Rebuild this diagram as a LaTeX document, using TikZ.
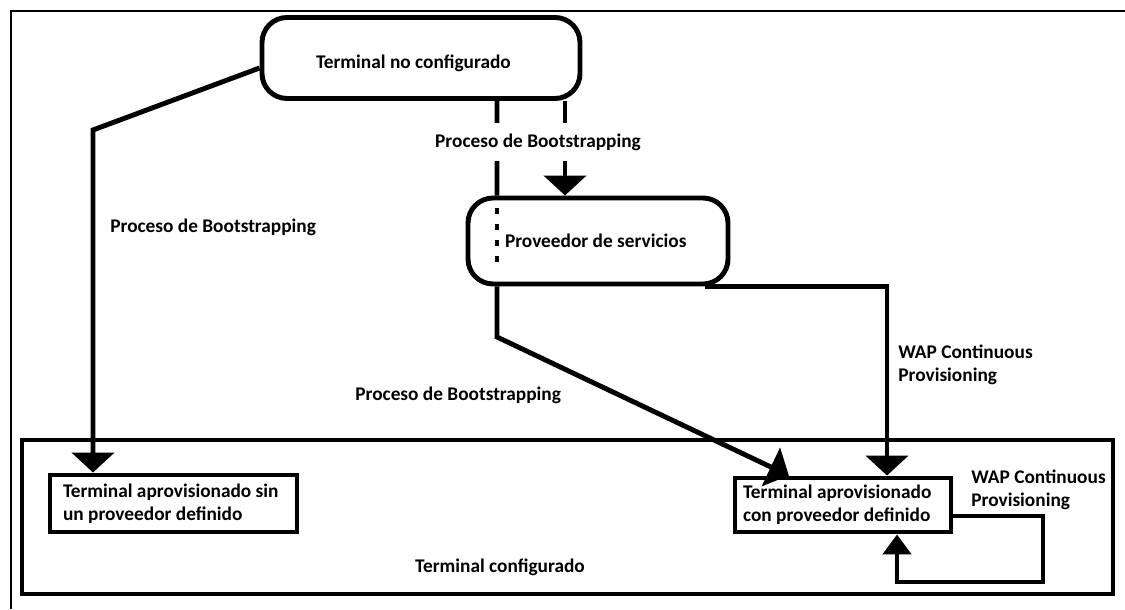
\documentclass[tikz,border=0pt]{standalone}
\usepackage{fontspec}
\setmainfont{Carlito}
\usetikzlibrary{arrows.meta,calc}

\begin{document}
\begin{tikzpicture}[
    font=\bfseries\fontsize{11}{13}\selectfont,
    state/.style={draw, line width=2.8pt, rounded corners=0.5cm, inner sep=0pt},
    box/.style={draw, line width=2.8pt, align=flush left, inner ysep=0pt},
    lbl/.style={align=flush left, inner sep=0pt},
    line/.style={line width=2.8pt},
    arr/.style={line width=2.8pt, -{Triangle[width=0.84cm,length=0.4cm]}},
    smallarr/.style={line width=2.8pt, -{Triangle[width=0.56cm,length=0.4cm]}},
  ]
    \useasboundingbox (0,0) rectangle (22.5,12.18);
    \draw[line width=1.6pt] (0.22,0) |- (22.5,11.96);

    \node[state, minimum width=6.36cm, minimum height=1.62cm, align=flush left,
          text width=4.2cm, inner xsep=1.08cm, text height=0.6cm, text depth=0.16cm]
          (noconf) at (8.42,11.02) {Terminal no configurado};
    \node[state, minimum width=5.2cm, minimum height=1.72cm, align=flush left,
          text width=3.72cm, inner xsep=0.74cm] (prov) at (11.96,7.36) {Proveedor de servicios};

    \node[box, minimum width=21.82cm, minimum height=3.08cm] (conf) at (11.35,1.84) {};
    \node[box, minimum height=1.14cm, text width=4.42cm, inner xsep=0.26cm] (sin) at (3.47,2.11)
      {Terminal aprovisionado sin\\un proveedor definido};
    \node[box, minimum height=1.08cm, text width=4.0cm, inner xsep=0.16cm] (con) at (16.86,2.08)
      {Terminal aprovisionado\\con proveedor definido};

    \coordinate (b1) at (1.86,9.58);
    \coordinate (b2) at (9.94,5.44);
    \coordinate (lp) at (20.86,0.54);

    \draw[arr] ([yshift=-0.2cm]noconf.west) -- (b1) -- (sin.north -| b1);

    \draw[line] ([xshift=1.52cm]noconf.south) -- (prov.north -| b2);
    \draw[line, dash pattern=on 0.12cm off 0.2cm]
      ([yshift=-0.24cm]prov.north -| b2) -- ([yshift=-1.32cm]prov.north -| b2);
    \draw[arr] (prov.south -| b2) -- (b2) -- ($(con.north west)!0.255!(con.north east)$);

    \draw[arr] ([xshift=2.88cm]noconf.south) -- ([xshift=2.88cm]noconf.south |- prov.north);
    \draw[arr] ([xshift=-0.5cm]prov.south east) -| ([xshift=0.88cm]con.north);
    \draw[smallarr] ([yshift=-0.22cm]con.east) -| (lp) -| ([xshift=1.08cm]con.south);

    \node[lbl, fill=white, inner ysep=0.22cm, inner xsep=2pt] (bootc) at (10.76,9.34) {Proceso de Bootstrapping};
    \node[lbl, anchor=west] (bootl) at (2.2,7.64) {Proceso de Bootstrapping};
    \node[lbl, anchor=west] (bootm) at (7.1,4.28) {Proceso de Bootstrapping};
    \node[lbl, anchor=west] (wap1) at (17.96,4.88) {WAP Continuous\\Provisioning};
    \node[lbl, anchor=west] (wap2) at (19.42,2.38) {WAP Continuous\\Provisioning};
    \node[lbl] (conflbl) at (10.0,0.84) {Terminal configurado};
  \end{tikzpicture}
\end{document}
